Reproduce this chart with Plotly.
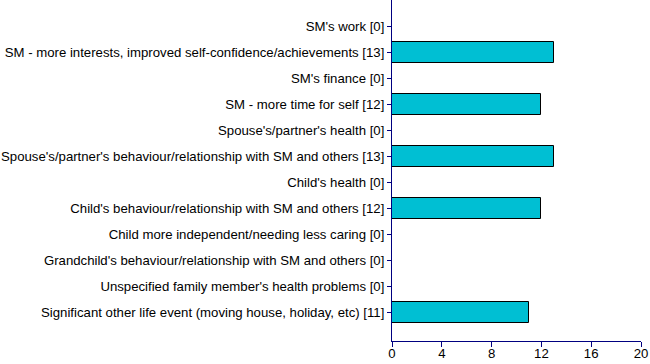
import plotly.graph_objects as go

categories = [
    "SM's work [0]",
    "SM - more interests, improved self-confidence/achievements [13]",
    "SM's finance [0]",
    "SM - more time for self [12]",
    "Spouse's/partner's health [0]",
    "Spouse's/partner's behaviour/relationship with SM and others [13]",
    "Child's health [0]",
    "Child's behaviour/relationship with SM and others [12]",
    "Child more independent/needing less caring [0]",
    "Grandchild's behaviour/relationship with SM and others [0]",
    "Unspecified family member's health problems [0]",
    "Significant other life event (moving house, holiday, etc) [11]",
]
values = [0, 13, 0, 12, 0, 13, 0, 12, 0, 0, 0, 11]
x_ticks = [0, 4, 8, 12, 16, 20]

fig = go.Figure(go.Bar(
    x=values, y=categories, orientation="h",
    marker=dict(color="#00BFD3", line=dict(color="#000000", width=1)),
    width=0.83,
))

axis_color = "#000080"
fig.update_layout(
    width=650, height=364,
    margin=dict(l=392, r=9, t=0, b=23),
    plot_bgcolor="white", paper_bgcolor="white",
    font=dict(family="Liberation Sans, Arial, sans-serif", size=13.2, color="#000000"),
    showlegend=False,
    bargap=0,
)
fig.update_xaxes(
    range=[0, 20], tickvals=x_ticks, showgrid=False, zeroline=False,
    showline=True, linecolor=axis_color, linewidth=1,
    ticks="outside", tickcolor=axis_color, ticklen=5, tickwidth=1,
    tickfont=dict(size=13.2), ticklabelstandoff=-5, automargin=False,
)
fig.update_yaxes(
    range=[12.1, -1.02], showgrid=False, zeroline=False,
    showline=True, linecolor=axis_color, linewidth=1,
    ticks="outside", tickcolor=axis_color, ticklen=4, tickwidth=1,
    tickfont=dict(size=13.2), ticklabelstandoff=0, automargin=False,
)

fig.write_html("out.html", config={"displayModeBar": False},
               post_script="document.body.style.margin='0';")
